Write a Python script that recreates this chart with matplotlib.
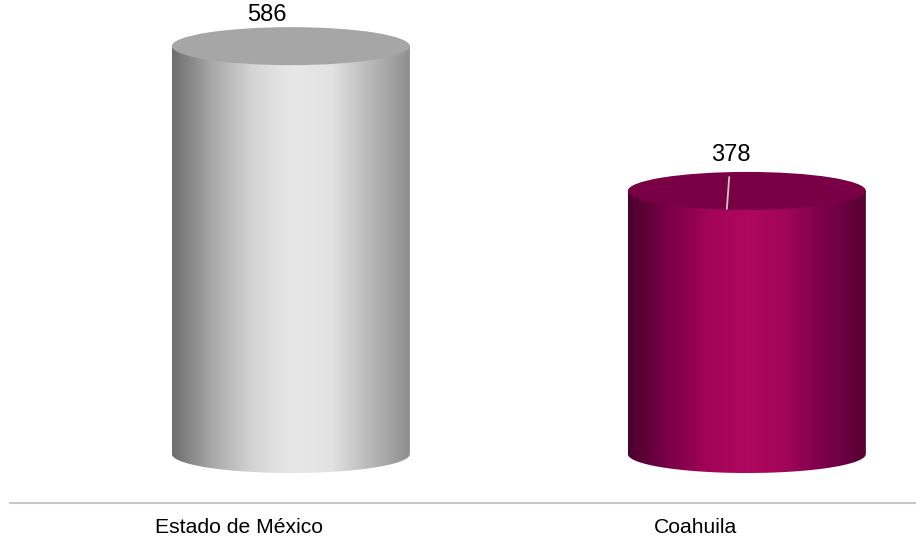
import numpy as np
import matplotlib
matplotlib.use("Agg")
import matplotlib.pyplot as plt
from matplotlib.patches import Ellipse, Polygon
from matplotlib.colors import LinearSegmentedColormap

categories = ["Estado de México", "Coahuila"]
values = [586, 378]
side_colors = [
    ["#6e6e6e", "#a8a8a8", "#d4d4d4", "#e8e8e8", "#e2e2e2", "#b8b8b8", "#8e8e8e"],
    ["#4a002d", "#7a0048", "#a20458", "#b0075f", "#a00558", "#78004a", "#560033"],
]
top_colors = ["#a6a6a6", "#7a0046"]

plt.rcParams['font.family'] = ['Liberation Sans', 'DejaVu Sans']

fig = plt.figure(figsize=(9.16, 5.41), dpi=100)
ax = fig.add_axes([0, 0, 1, 1])
ax.set_xlim(-0.638, 1.371)
ax.set_ylim(-125, 652.3)
ax.axis('off')

hw = 0.261   # half width of a cylinder
eh = 27.3    # half height of the ellipses, in value units
t = np.linspace(np.pi, 2 * np.pi, 80)

for i, (cat, v) in enumerate(zip(categories, values)):
    x = i
    # body outline: sides plus lower half of the base ellipse
    arc = np.column_stack([x - hw * np.cos(t - np.pi), eh * np.sin(t)])
    pts = np.vstack([[x - hw, v], arc, [x + hw, v]])
    body = Polygon(pts, closed=True, facecolor='none', edgecolor='none')
    ax.add_patch(body)
    cmap = LinearSegmentedColormap.from_list("c%d" % i, side_colors[i])
    grad = np.linspace(0, 1, 256).reshape(1, -1)
    im = ax.imshow(grad, cmap=cmap, aspect='auto',
                   extent=[x - hw, x + hw, -eh - 2, v], zorder=2)
    im.set_clip_path(body)
    ax.add_patch(Ellipse((x, v), 2 * hw, 2 * eh, facecolor=top_colors[i],
                         edgecolor='none', zorder=3))

# value labels
ax.annotate(str(values[0]), xy=(0, values[0]), xytext=(-24, 20),
            textcoords='offset pixels', ha='center', va='bottom',
            fontsize=17, zorder=5)
ax.annotate(str(values[1]), xy=(1 - 20 / 456, values[1] - 18 / 0.696),
            xytext=(4, 43), textcoords='offset pixels', ha='center',
            va='bottom', fontsize=17, zorder=5,
            arrowprops=dict(arrowstyle='-', color='#c8c8c8', lw=1.3,
                            shrinkA=6, shrinkB=0))

ax.axhline(-70.4, xmin=10 / 916, xmax=1, color='#c8c8c8', lw=1.5)

label_x = [-0.114, 0.888]
for lx, cat in zip(label_x, categories):
    ax.text(lx, -106.3, cat, ha='center', va='center', fontsize=15.2)

fig.savefig("out.png", dpi=100)
